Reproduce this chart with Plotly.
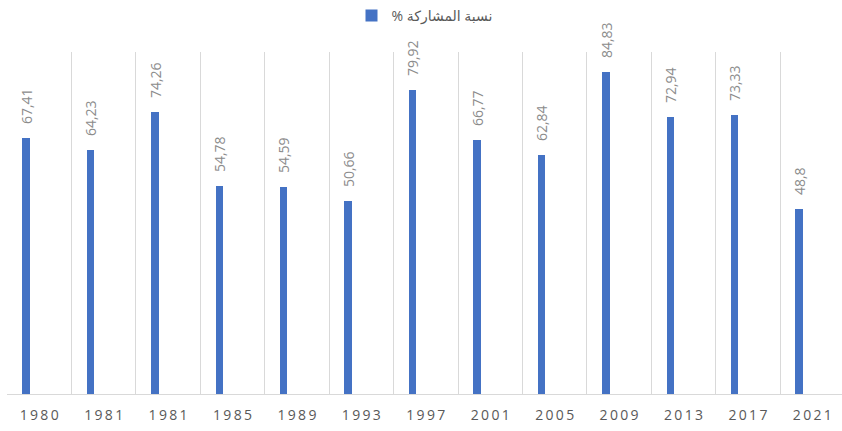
import plotly.graph_objects as go

years = ["1980", "1981", "1981", "1985", "1989", "1993", "1997", "2001", "2005", "2009", "2013", "2017", "2021"]
participation = [67.41, 64.23, 74.26, 54.78, 54.59, 50.66, 79.92, 66.77, 62.84, 84.83, 72.94, 73.33, 48.8]
series_name = "% نسبة المشاركة"

positions = list(range(len(years)))
tick_text = ["\u2009".join(list(y)) for y in years]
label_text = ["\u00a0\u00a0\u00a0" + f"{v:g}".replace(".", ",") for v in participation]

fig = go.Figure()
fig.add_trace(go.Bar(
    x=positions,
    y=participation,
    name=series_name,
    marker=dict(color="#4472c4", line=dict(width=0)),
    width=0.114,
    offset=-0.262,
    text=label_text,
    textposition="outside",
    textangle=-90,
    constraintext="none",
    cliponaxis=False,
    textfont=dict(family="Open Sans", size=14, color="#8c8c8c"),
    showlegend=True,
))

fig.update_layout(
    width=842,
    height=431,
    margin=dict(l=7, r=0, t=52, b=37),
    paper_bgcolor="white",
    plot_bgcolor="white",
    showlegend=True,
    legend=dict(
        orientation="h",
        x=0.5, xanchor="center",
        y=1.0, yanchor="top",
        yref="container",
        font=dict(family="Open Sans, DejaVu Sans", size=14, color="#595959"),
        bgcolor="rgba(0,0,0,0)",
    ),
    xaxis=dict(
        range=[-0.5, 12.46],
        tickmode="array",
        tickvals=positions,
        ticktext=tick_text,
        showgrid=False,
        zeroline=False,
        showline=False,
        ticks="",
        ticklabelstandoff=11,
        tickfont=dict(family="Open Sans", size=14, color="#595959"),
        minor=dict(tick0=-0.5, dtick=1, showgrid=True, gridcolor="#d9d9d9", gridwidth=1, ticks=""),
    ),
    yaxis=dict(
        range=[0, 90],
        showgrid=False,
        zeroline=True,
        zerolinecolor="#d9d9d9",
        zerolinewidth=1,
        showticklabels=False,
        showline=False,
        ticks="",
    ),
    bargap=0,
)

fig.write_html("out.html", config={"displayModeBar": False},
               post_script="document.body.style.margin='0px';")
